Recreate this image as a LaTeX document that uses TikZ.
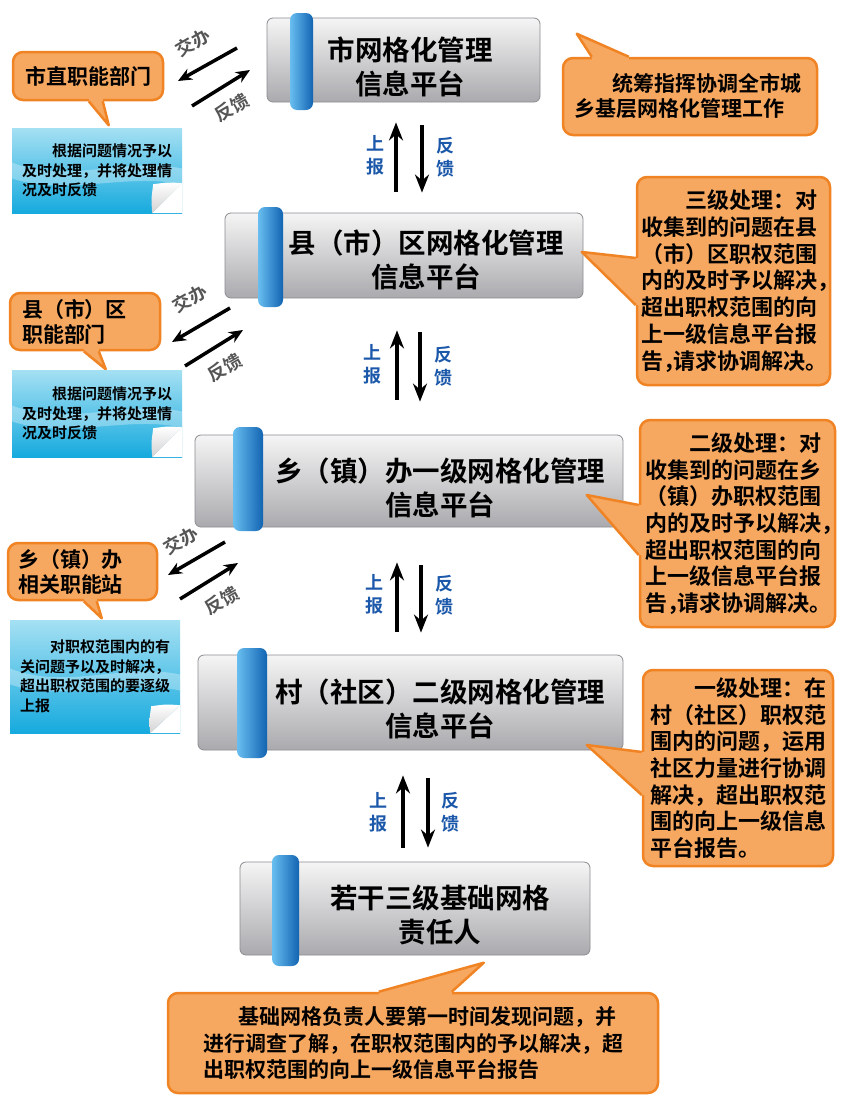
\documentclass[tikz,border=0pt]{standalone}
\usepackage{fontspec}
\usetikzlibrary{arrows.meta,positioning}
\newfontfamily\cjk{Noto Sans CJK SC}[BoldFont={Noto Sans CJK SC Bold}]
\newcommand\hcomma{\makebox[0.45em][l]{，}}
\definecolor{orfill}{RGB}{247,168,96}
\definecolor{oredge}{RGB}{240,132,36}
\definecolor{notetop}{RGB}{165,224,243}
\definecolor{notebot}{RGB}{22,170,222}
\definecolor{boxtop}{RGB}{245,245,245}
\definecolor{boxbot}{RGB}{170,170,174}
\definecolor{boxedge}{RGB}{140,140,145}
\definecolor{ribdark}{RGB}{18,100,178}
\definecolor{riblight}{RGB}{105,190,240}
\definecolor{labblue}{RGB}{28,88,170}
\definecolor{labgray}{RGB}{85,85,85}

\begin{document}
\begin{tikzpicture}[x=1pt,y=-1pt,
  platform/.style={draw=boxedge, line width=0.8pt, rounded corners=6pt, top color=boxtop, bottom color=boxbot, inner sep=0pt},
  ptitle/.style={font=\cjk\bfseries\fontsize{27.5}{34}\selectfont, align=center, inner sep=0pt},
  ribbon/.style={left color=riblight, right color=ribdark, rounded corners=7pt},
  callout/.style={fill=orfill, draw=oredge, line width=2.5pt, rounded corners=10pt, inner sep=0pt, font=\cjk\bfseries\fontsize{21}{25}\selectfont, align=left},
  bigcallout/.style={callout, font=\cjk\bfseries\fontsize{22}{26.7}\selectfont},
  tailfill/.style={fill=orfill},
  tailline/.style={draw=oredge, line width=2.5pt, line join=round},
  note/.style={top color=notetop, bottom color=notebot, inner sep=0pt, font=\cjk\bfseries\fontsize{15}{19.5}\selectfont, align=left,
    path picture={\fill[white,opacity=0.3] ([yshift=8]path picture bounding box.west) .. controls ([xshift=-30,yshift=-14]path picture bounding box.center) and ([xshift=30,yshift=14]path picture bounding box.center) .. ([yshift=2]path picture bounding box.east) -- ([yshift=-14]path picture bounding box.east) .. controls ([xshift=30,yshift=-2]path picture bounding box.center) and ([xshift=-30,yshift=-26]path picture bounding box.center) .. ([yshift=-8]path picture bounding box.west) -- cycle;}},
  flap/.style={top color=white, bottom color=gray!35},
  flow/.style={line width=3.5pt, -{Stealth[length=18pt,width=14pt]}},
  handover/.style={line width=3.5pt, -{Stealth[length=14pt,width=12pt]}},
  vlabel/.style={font=\cjk\bfseries\fontsize{18}{23}\selectfont, text=labblue, align=center, inner sep=0pt},
  dlabel/.style={font=\cjk\bfseries\fontsize{18}{20}\selectfont, text=labgray, rotate=30, inner sep=0pt}]

\fill[white] (0,0) rectangle (842,1095);
\useasboundingbox (0,0) rectangle (842,1095);

% platforms
\node[platform, minimum width=273, minimum height=84] (p1) at (403.5,60) {};
\node[platform, minimum width=358, minimum height=85] (p2) at (404,255.5) {};
\node[platform, minimum width=428, minimum height=92] (p3) at (409,481) {};
\node[platform, minimum width=425, minimum height=95] (p4) at (410.5,702.5) {};
\node[platform, minimum width=350, minimum height=93] (p5) at (415,908.5) {};
\shade[ribbon] (290,13) rectangle (313,110);
\shade[ribbon] (258,207) rectangle (283,307);
\shade[ribbon] (233,427) rectangle (263,531);
\shade[ribbon] (237,648) rectangle (267,758);
\shade[ribbon] (272,855) rectangle (299,966);
\node[ptitle] (t1) at (410,66.5) {市网格化管理\\信息平台};
\node[ptitle] (t2) at (426,260) {县（市）区网格化管理\\信息平台};
\node[ptitle] (t3) at (440,487.5) {乡（镇）办一级网格化管理\\信息平台};
\node[ptitle] (t4) at (440,708.5) {村（社区）二级网格化管理\\信息平台};
\node[ptitle] (t5) at (440,915) {若干三级基础网格\\责任人};

% up / down
\draw[flow, shorten <=21pt, shorten >=20pt] ([xshift=-8]p2.north) -- ([xshift=-7.5]p1.south);
\draw[flow, shorten <=23pt, shorten >=20pt] ([xshift=18.5]p1.south) -- ([xshift=18]p2.north);
\draw[flow, shorten <=35pt, shorten >=32pt] ([xshift=-12]p3.north) -- ([xshift=-7]p2.south);
\draw[flow, shorten <=34pt, shorten >=33pt] ([xshift=16]p2.south) -- ([xshift=11]p3.north);
\draw[flow, shorten <=23pt, shorten >=35pt] ([xshift=-13.5]p4.north) -- ([xshift=-12]p3.south);
\draw[flow, shorten <=38pt, shorten >=22pt] ([xshift=12]p3.south) -- ([xshift=10.5]p4.north);
\draw[flow, shorten <=14pt, shorten >=25pt] ([xshift=-12]p5.north) -- ([xshift=-7.5]p4.south);
\draw[flow, shorten <=28pt, shorten >=14pt] ([xshift=17.5]p4.south) -- ([xshift=13]p5.north);
\node[vlabel] (sb1) at (375,155) {上\\报};
\node[vlabel] (fk1) at (445,157) {反\\馈};
\node[vlabel] (sb2) at (372,364) {上\\报};
\node[vlabel] (fk2) at (443,366) {反\\馈};
\node[vlabel] (sb3) at (374,594) {上\\报};
\node[vlabel] (fk3) at (444,595) {反\\馈};
\node[vlabel] (sb4) at (378,812) {上\\报};
\node[vlabel] (fk4) at (450,812) {反\\馈};

% left side departments
\node[callout, align=center, minimum width=150, minimum height=48] (o1) at (88,76) {市直职能部门};
\node[callout, text width=126, minimum width=150, minimum height=57] (o2) at (85,321.5) {县（市）区\\职能部门};
\node[callout, text width=129, minimum width=149, minimum height=57] (o3) at (82.5,571.5) {乡（镇）办\\相关职能站};
\fill[tailfill] ([xshift=77,yshift=4]o1.south west) -- ([xshift=77]o1.south west) -- ([xshift=97,yshift=-24]o1.south west) -- ([xshift=91]o1.south west) -- ([xshift=91,yshift=4]o1.south west) -- cycle;
\draw[tailline] ([xshift=77]o1.south west) -- ([xshift=97,yshift=-24]o1.south west) -- ([xshift=91]o1.south west);
\fill[tailfill] ([xshift=75,yshift=4]o2.south west) -- ([xshift=75]o2.south west) -- ([xshift=97,yshift=-18]o2.south west) -- ([xshift=90]o2.south west) -- ([xshift=90,yshift=4]o2.south west) -- cycle;
\draw[tailline] ([xshift=75]o2.south west) -- ([xshift=97,yshift=-18]o2.south west) -- ([xshift=90]o2.south west);
\fill[tailfill] ([xshift=77,yshift=4]o3.south west) -- ([xshift=77]o3.south west) -- ([xshift=95,yshift=-17]o3.south west) -- ([xshift=90]o3.south west) -- ([xshift=90,yshift=4]o3.south west) -- cycle;
\draw[tailline] ([xshift=77]o3.south west) -- ([xshift=95,yshift=-17]o3.south west) -- ([xshift=90]o3.south west);

\node[note, text width=150, minimum width=170, minimum height=85] (n1) at (97,170.5) {\hspace*{2em}根据问题情况予以\\及时处理，并将处理情\\况及时反馈};
\node[note, text width=150, minimum width=170, minimum height=87] (n2) at (97,413.5) {\hspace*{2em}根据问题情况予以\\及时处理，并将处理情\\况及时反馈};
\node[note, text width=150, minimum width=170, minimum height=113] (n3) at (95,676.5) {\hspace*{2em}对职权范围内的有\\关问题予以及时解决，\\超出职权范围的要逐级\\上报};
\fill[white] ([yshift=30]n1.south east) -- (n1.south east) -- ([xshift=-30]n1.south east) -- cycle;
\shade[flap] ([yshift=30]n1.south east) .. controls ([xshift=-14,yshift=31]n1.south east) .. ([xshift=-29,yshift=29]n1.south east) .. controls ([xshift=-31,yshift=14]n1.south east) .. ([xshift=-30]n1.south east) -- cycle;
\fill[white] ([yshift=30]n2.south east) -- (n2.south east) -- ([xshift=-30]n2.south east) -- cycle;
\shade[flap] ([yshift=30]n2.south east) .. controls ([xshift=-14,yshift=31]n2.south east) .. ([xshift=-29,yshift=29]n2.south east) .. controls ([xshift=-31,yshift=14]n2.south east) .. ([xshift=-30]n2.south east) -- cycle;
\fill[white] ([yshift=28]n3.south east) -- (n3.south east) -- ([xshift=-30]n3.south east) -- cycle;
\shade[flap] ([yshift=28]n3.south east) .. controls ([xshift=-14,yshift=29]n3.south east) .. ([xshift=-29,yshift=27]n3.south east) .. controls ([xshift=-31,yshift=13]n3.south east) .. ([xshift=-30]n3.south east) -- cycle;

% handing over / feedback
\coordinate (j1s) at (237,48);  \coordinate (j1e) at (178,81);
\coordinate (f1s) at (192,106); \coordinate (f1e) at (250,70);
\coordinate (j2s) at (230,308); \coordinate (j2e) at (172,342);
\coordinate (f2s) at (185,366); \coordinate (f2e) at (243,330);
\coordinate (j3s) at (225,542); \coordinate (j3e) at (168,575);
\coordinate (f3s) at (180,599); \coordinate (f3e) at (238,563);
\draw[handover] (j1s) -- (j1e);
\draw[handover] (f1s) -- (f1e);
\draw[handover] (j2s) -- (j2e);
\draw[handover] (f2s) -- (f2e);
\draw[handover] (j3s) -- (j3e);
\draw[handover] (f3s) -- (f3e);
\node[dlabel] (jb1) at (193,43) {交办};
\node[dlabel] (fb1) at (232,108) {反馈};
\node[dlabel] (jb2) at (190,299) {交办};
\node[dlabel] (fb2) at (225,368) {反馈};
\node[dlabel] (jb3) at (181,541) {交办};
\node[dlabel] (fb3) at (222,601) {反馈};

% right side
\node[callout, text width=231, minimum width=254, minimum height=77] (r0) at (690,96.5) {\hspace*{1.8em}统筹指挥协调全市城\\乡基层网格化管理工作};
\fill[tailfill] ([xshift=30,yshift=-4]r0.north west) -- ([xshift=30]r0.north west) -- ([xshift=15,yshift=23]r0.north west) -- ([xshift=67]r0.north west) -- ([xshift=67,yshift=-4]r0.north west) -- cycle;
\draw[tailline] ([xshift=30]r0.north west) -- ([xshift=15,yshift=23]r0.north west) -- ([xshift=67]r0.north west);

\node[bigcallout, text width=184, minimum width=193, minimum height=208] (r1) at (733.5,281) {\hspace*{2em}三级处理：对\\收集到的问题在县\\（市）区职权范围\\内的及时予以解决\hcomma\\超出职权范围的向\\上一级信息平台报\\告\hcomma 请求协调解决。};
\fill[tailfill] ([xshift=4,yshift=23]r1.west) -- ([yshift=23]r1.west) -- ([xshift=-54,yshift=29]r1.west) -- ([yshift=-24]r1.west) -- ([xshift=4,yshift=-24]r1.west) -- cycle;
\draw[tailline] ([yshift=23]r1.west) -- ([xshift=-54,yshift=29]r1.west) -- ([yshift=-24]r1.west);

\node[bigcallout, text width=184, minimum width=195, minimum height=207] (r2) at (737.5,523.5) {\hspace*{2em}二级处理：对\\收集到的问题在乡\\（镇）办职权范围\\内的及时予以解决\hcomma\\超出职权范围的向\\上一级信息平台报\\告\hcomma 请求协调解决。};
\fill[tailfill] ([xshift=4,yshift=18.5]r2.west) -- ([yshift=18.5]r2.west) -- ([xshift=-52,yshift=28.5]r2.west) -- ([yshift=-31.5]r2.west) -- ([xshift=4,yshift=-31.5]r2.west) -- cycle;
\draw[tailline] ([yshift=18.5]r2.west) -- ([xshift=-52,yshift=28.5]r2.west) -- ([yshift=-31.5]r2.west);

\node[bigcallout, text width=176, minimum width=190, minimum height=196] (r3) at (738,768) {\hspace*{2em}一级处理：在\\村（社区）职权范\\围内的问题，运用\\社区力量进行协调\\解决，超出职权范\\围的向上一级信息\\平台报告。};
\fill[tailfill] ([xshift=4,yshift=16]r3.west) -- ([yshift=16]r3.west) -- ([xshift=-55,yshift=23]r3.west) -- ([yshift=-27]r3.west) -- ([xshift=4,yshift=-27]r3.west) -- cycle;
\draw[tailline] ([yshift=16]r3.west) -- ([xshift=-55,yshift=23]r3.west) -- ([yshift=-27]r3.west);

% bottom
\node[callout, font=\cjk\bfseries\fontsize{21}{26.5}\selectfont, text width=420, minimum width=490, minimum height=100] (b0) at (413,1043) {\hspace*{1.7em}基础网格负责人要第一时间发现问题，并\\进行调查了解，在职权范围内的予以解决，超\\出职权范围的向上一级信息平台报告};
\fill[tailfill] ([xshift=212,yshift=-4]b0.north west) -- ([xshift=212]b0.north west) -- ([xshift=317,yshift=29]b0.north west) -- ([xshift=285]b0.north west) -- ([xshift=285,yshift=-4]b0.north west) -- cycle;
\draw[tailline] ([xshift=212]b0.north west) -- ([xshift=317,yshift=29]b0.north west) -- ([xshift=285]b0.north west);

\end{tikzpicture}
\end{document}
